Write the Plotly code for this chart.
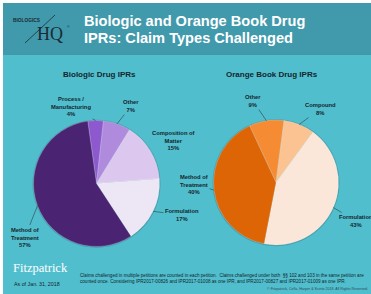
import math
import plotly.graph_objects as go

W, H = 371, 294

# ---- data ----
bio_labels = ["Process / Manufacturing", "Other", "Composition of Matter", "Formulation", "Method of Treatment"]
bio_values = [4, 7, 15, 17, 57]
bio_colors = ["#8E58CE", "#B08ADD", "#DCC8EE", "#EDE7F5", "#4A2372"]
bio_text_lines = ["Process /<br>Manufacturing", "Other", "Composition of<br>Matter", "Formulation", "Method of<br>Treatment"]

ob_labels = ["Other", "Compound", "Formulation", "Method of Treatment"]
ob_values = [9, 8, 43, 40]
ob_colors = ["#F58B33", "#FBC292", "#FAE7DA", "#DD6506"]
ob_text_lines = ["Other", "Compound", "Formulation", "Method of<br>Treatment"]

# ---- layout helpers (pixel -> paper) ----
def px(x):
    return x / W

def py(y):
    return 1 - y / H

pies = [
    dict(name="Biologic Drug IPRs", labels=bio_labels, values=bio_values, colors=bio_colors,
         text=bio_text_lines, cx=96.5, cy=183.5, r=63, rot=-8, title_x=99,
         label_pos=[(71, 107), (131, 106), (173, 140), (182, 215), (25, 237)]),
    dict(name="Orange Book Drug IPRs", labels=ob_labels, values=ob_values, colors=ob_colors,
         text=ob_text_lines, cx=276, cy=182.5, r=62.5, rot=-25, title_x=271.5,
         label_pos=[(253, 101), (320, 109), (356, 221), (194, 184)]),
]

fig = go.Figure()
shapes = [
    dict(type="rect", xref="paper", yref="paper", x0=0, x1=1, y0=py(55), y1=py(3),
         fillcolor="#4199AC", line_width=0, layer="below"),
    dict(type="line", xref="paper", yref="paper", x0=px(25), y0=py(43), x1=px(55), y1=py(15),
         line=dict(color="#1b2b33", width=0.8)),
]
annotations = []

for p in pies:
    cx, cy, r = p["cx"], p["cy"], p["r"]
    fig.add_trace(go.Pie(
        labels=p["labels"], values=p["values"], sort=False, direction="clockwise",
        rotation=p["rot"], textinfo="none", hoverinfo="label+percent",
        marker=dict(colors=p["colors"], line=dict(color="rgba(255,255,255,0.35)", width=0.6)),
        domain=dict(x=[px(cx - r), px(cx + r)], y=[py(cy + r), py(cy - r)]),
        showlegend=False,
    ))
    # shadow ring
    shapes.append(dict(type="circle", xref="paper", yref="paper",
                       x0=px(cx - r - 1.0), x1=px(cx + r + 1.0), y0=py(cy + r + 1.2), y1=py(cy - r - 0.8),
                       fillcolor="#3E8E9B", line_width=0, layer="below", opacity=0.7))
    # title
    annotations.append(dict(text="<b>" + p["name"] + "</b>", x=px(p["title_x"]), y=py(74), xref="paper", yref="paper",
                            xanchor="center", yanchor="middle",
                            showarrow=False, font=dict(size=8, color="#14262c", family="Liberation Sans")))
    total = sum(p["values"])
    start = p["rot"]
    for v, t, (lx, ly) in zip(p["values"], p["text"], p["label_pos"]):
        span = 360 * v / total
        mid = math.radians(start + span / 2)
        start += span
        tx = cx + r * math.sin(mid)
        ty = cy - r * math.cos(mid)
        pct = round(100 * v / total)
        annotations.append(dict(
            text="<b>%s<br>%d%%</b>" % (t, pct), x=px(tx), y=py(ty), xref="paper", yref="paper",
            ax=lx - tx, ay=ly - ty, axref="pixel", ayref="pixel",
            showarrow=True, arrowhead=0, arrowwidth=0.6, arrowcolor="#2b3f45", standoff=0,
            font=dict(size=5.8, color="#14262c", family="Liberation Sans"), align="center",
        ))

# header texts
annotations += [
    dict(text="<b>Biologic and Orange Book Drug</b>", x=px(82), y=py(21), xref="paper", yref="paper",
         xanchor="left", yanchor="middle", showarrow=False,
         font=dict(size=14.6, color="white", family="Liberation Sans")),
    dict(text="<b>IPRs: Claim Types Challenged</b>", x=px(82), y=py(38), xref="paper", yref="paper",
         xanchor="left", yanchor="middle", showarrow=False,
         font=dict(size=14.6, color="white", family="Liberation Sans")),
    dict(text="<b>BIOLOGICS</b>", x=px(11), y=py(21), xref="paper", yref="paper", xanchor="left", yanchor="middle",
         showarrow=False, font=dict(size=4.8, color="#1b2b33", family="Liberation Sans")),
    dict(text="HQ", x=px(35), y=py(34), xref="paper", yref="paper", xanchor="left", yanchor="middle",
         showarrow=False, font=dict(size=18, color="#1b2b33", family="Liberation Serif")),
    dict(text="®", x=px(64.5), y=py(27), xref="paper", yref="paper", xanchor="left", yanchor="middle",
         showarrow=False, font=dict(size=3.5, color="#1b2b33", family="Liberation Sans")),
    # footer
    dict(text="Fitzpatrick", x=px(11), y=py(268), xref="paper", yref="paper", xanchor="left", yanchor="middle",
         showarrow=False, font=dict(size=12.5, color="white", family="Liberation Serif")),
    dict(text="As of Jan. 31, 2018", x=px(12), y=py(283.5), xref="paper", yref="paper", xanchor="left",
         yanchor="middle", showarrow=False, font=dict(size=5.3, color="#14262c", family="Liberation Sans")),
    dict(text="Claims challenged in multiple petitions are counted in each petition.  Claims challenged under both  §§ 102 and 103 in the same petition are",
         x=px(78), y=py(275.5), xref="paper", yref="paper", xanchor="left", yanchor="middle",
         showarrow=False, font=dict(size=4.6, color="#14262c", family="Liberation Sans")),
    dict(text="counted once. Considering IPR2017-00826 and IPR2017-01008 as one IPR, and IPR2017-00827 and IPR2017-01009 as one IPR.",
         x=px(78), y=py(281.5), xref="paper", yref="paper", xanchor="left", yanchor="middle",
         showarrow=False, font=dict(size=4.6, color="#14262c", family="Liberation Sans")),
    dict(text="© Fitzpatrick, Cella, Harper & Scinto 2018. All Rights Reserved.",
         x=px(370), y=py(289), xref="paper", yref="paper", xanchor="right", yanchor="middle",
         showarrow=False, font=dict(size=3.6, color="#2b4a52", family="Liberation Sans")),
]

# white frame edges
shapes += [
    dict(type="rect", xref="paper", yref="paper", x0=0, x1=px(3), y0=0, y1=1, fillcolor="white", line_width=0, layer="above"),
    dict(type="rect", xref="paper", yref="paper", x0=0, x1=1, y0=py(3), y1=1, fillcolor="white", line_width=0, layer="above"),
]

fig.update_layout(
    width=W, height=H, margin=dict(l=0, r=0, t=0, b=0),
    paper_bgcolor="#51BECE", plot_bgcolor="#51BECE",
    shapes=shapes, annotations=annotations,
)
fig.write_html("out.html", config={"displayModeBar": False},
               post_script="document.body.style.margin='0';document.body.style.overflow='hidden';")
